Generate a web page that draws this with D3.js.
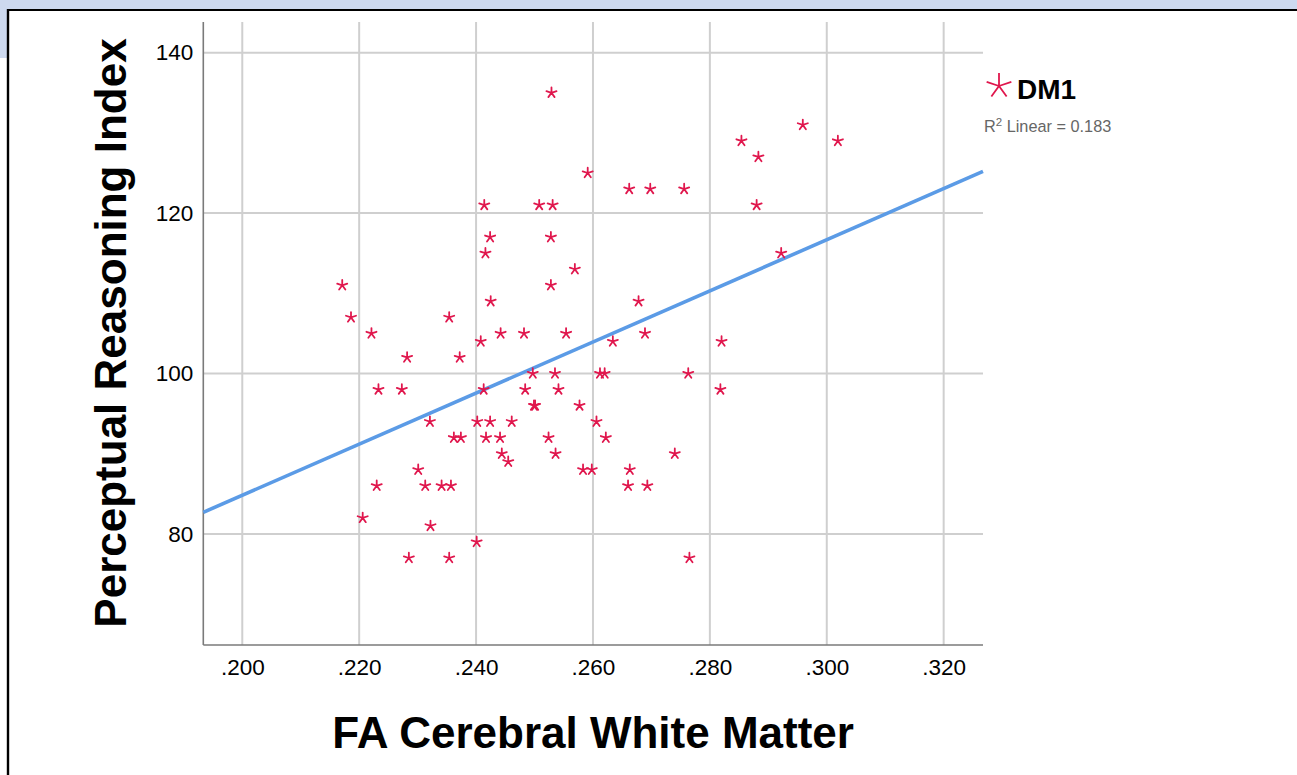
<!DOCTYPE html>
<html>
<head>
<meta charset="utf-8">
<script src="https://cdn.jsdelivr.net/npm/d3@7"></script>
<style>
  html, body { margin: 0; padding: 0; background: #ffffff; }
  svg { display: block; font-family: "Liberation Sans", Arial, sans-serif; }
</style>
</head>
<body>
<svg id="chart" width="1297" height="775"></svg>
<script>
// FA of cerebral white matter (x) vs Perceptual Reasoning Index (y), DM1 group
const faValues = [
  0.2171, 0.2186, 0.2221, 0.2233, 0.2273, 0.2282, 0.2206, 0.2230, 0.2285, 0.2301,
  0.2313, 0.2321, 0.2322, 0.2341, 0.2357, 0.2354, 0.2354, 0.2362, 0.2374, 0.2372,
  0.2401, 0.2402, 0.2408, 0.2413, 0.2414, 0.2416, 0.2424, 0.2425, 0.2417, 0.2424,
  0.2441, 0.2444, 0.2455, 0.2442, 0.2461, 0.2482, 0.2484, 0.2497, 0.2499, 0.2501,
  0.2508, 0.2524, 0.2528, 0.2529, 0.2531, 0.2528, 0.2535, 0.2536, 0.2541, 0.2554,
  0.2569, 0.2577, 0.2583, 0.2591, 0.2598, 0.2606, 0.2612, 0.2620, 0.2622, 0.2634,
  0.2662, 0.2678, 0.2663, 0.2660, 0.2689, 0.2693, 0.2698, 0.2740, 0.2756, 0.2763,
  0.2765, 0.2818, 0.2820, 0.2854, 0.2883, 0.2880, 0.2922, 0.2959, 0.3019
];
const priValues = [
  111, 107, 105, 98, 98, 102, 82, 86, 77, 88,
  86, 94, 81, 86, 86, 107, 77, 92, 92, 102,
  79, 94, 104, 98, 121, 115, 117, 109, 92, 94,
  92, 90, 89, 105, 94, 105, 98, 100, 96, 96,
  121, 92, 111, 135, 121, 117, 100, 90, 98, 105,
  113, 96, 88, 125, 88, 94, 100, 100, 92, 104,
  123, 109, 88, 86, 105, 86, 123, 90, 123, 100,
  77, 98, 104, 129, 127, 121, 115, 131, 129
];

// Linear fit: PRI = intercept + slope * FA
const fitCoefficients = [21.1, 318.6];
const fitR2 = "0.183";

const xTickValues = [0.20, 0.22, 0.24, 0.26, 0.28, 0.30, 0.32];
const yTickValues = [80, 100, 120, 140];
const seriesName = "DM1";
const xTitle = "FA Cerebral White Matter";
const yTitle = "Perceptual Reasoning Index";

const markerColor = "#e0174d";
const lineColor = "#5b9be6";
const gridColor = "#cfcfcf";
const axisColor = "#7a7a7a";

const svg = d3.select("#chart");

// window frame around the chart
svg.append("rect").attr("x", 0).attr("y", 0).attr("width", 1297).attr("height", 9).attr("fill", "#cdd9ef");
svg.append("rect").attr("x", 0).attr("y", 0).attr("width", 7).attr("height", 58).attr("fill", "#cdd9ef");
svg.append("line").attr("x1", 7).attr("x2", 1297).attr("y1", 10).attr("y2", 10)
  .attr("stroke", "#000").attr("stroke-width", 2.2);
svg.append("line").attr("x1", 8).attr("x2", 8).attr("y1", 9).attr("y2", 775)
  .attr("stroke", "#000").attr("stroke-width", 2.4);

const plot = { left: 203.3, right: 983, top: 22, bottom: 645 };

const x = d3.scaleLinear().domain([0.19333, 0.32673]).range([plot.left, plot.right]);
const y = d3.scaleLinear().domain([66.15, 143.83]).range([plot.bottom, plot.top]);

// gridlines
const grid = svg.append("g");
grid.selectAll("line.vg").data(xTickValues).join("line")
  .attr("x1", d => x(d)).attr("x2", d => x(d))
  .attr("y1", plot.top).attr("y2", plot.bottom)
  .attr("stroke", gridColor).attr("stroke-width", 2);
grid.selectAll("line.hg").data(yTickValues).join("line")
  .attr("class", "hg")
  .attr("x1", plot.left).attr("x2", plot.right)
  .attr("y1", d => y(d)).attr("y2", d => y(d))
  .attr("stroke", gridColor).attr("stroke-width", 2);

// axes
const fmtX = v => d3.format(".3f")(v).replace(/^0/, "");
const xAxis = d3.axisBottom(x).tickValues(xTickValues).tickFormat(fmtX).tickSize(0).tickPadding(14);
const yAxis = d3.axisLeft(y).tickValues(yTickValues).tickSize(0).tickPadding(10);

const gx = svg.append("g").attr("transform", `translate(0,${plot.bottom})`).call(xAxis);
const gy = svg.append("g").attr("transform", `translate(${plot.left},0)`).call(yAxis);
[gx, gy].forEach(g => {
  g.select(".domain").attr("stroke", axisColor).attr("stroke-width", 1.6);
  g.selectAll("text").attr("font-size", 22.5).attr("fill", "#000")
    .attr("font-family", "'Liberation Sans', Arial, sans-serif");
});
gy.select(".domain").attr("d", `M0,${plot.top}V${plot.bottom}`);
gx.select(".domain").attr("d", `M${plot.left},0H${plot.right}`);

// regression line
const fitLine = x.domain().map(v => [v, fitCoefficients[0] + fitCoefficients[1] * v]);
svg.append("path")
  .attr("d", d3.line().x(d => x(d[0])).y(d => y(d[1]))(fitLine))
  .attr("stroke", lineColor).attr("stroke-width", 3.6).attr("fill", "none");

// asterisk marker (five arms)
function asterisk(r) {
  let d = "";
  for (let k = 0; k < 5; k++) {
    const a = -Math.PI / 2 + k * 2 * Math.PI / 5;
    d += `M0,0L${(r * Math.cos(a)).toFixed(2)},${(r * Math.sin(a)).toFixed(2)}`;
  }
  return d;
}

const points = faValues.map((v, i) => ({ fa: v, pri: priValues[i] }));
svg.append("g").selectAll("path").data(points).join("path")
  .attr("transform", d => `translate(${x(d.fa)},${y(d.pri)})`)
  .attr("d", asterisk(5.3))
  .attr("stroke", markerColor).attr("stroke-width", 1.8).attr("fill", "none")
  .attr("stroke-linecap", "round");

// axis titles
svg.append("text")
  .attr("x", (plot.left + plot.right) / 2).attr("y", 748)
  .attr("text-anchor", "middle").attr("font-size", 44).attr("font-weight", "bold")
  .attr("fill", "#000").text(xTitle);
svg.append("text")
  .attr("transform", "translate(126,333) rotate(-90)")
  .attr("text-anchor", "middle").attr("font-size", 44).attr("font-weight", "bold")
  .attr("fill", "#000").text(yTitle);

// legend
svg.append("path").attr("transform", "translate(999,86)")
  .attr("d", asterisk(13))
  .attr("stroke", markerColor).attr("stroke-width", 1.8).attr("fill", "none");
svg.append("text").attr("x", 1017).attr("y", 99)
  .attr("font-size", 28).attr("font-weight", "bold").attr("fill", "#000").text(seriesName);
const r2 = svg.append("text").attr("x", 984).attr("y", 132)
  .attr("font-size", 16.3).attr("fill", "#666");
r2.append("tspan").text("R");
r2.append("tspan").attr("dy", -6).attr("font-size", 11.5).text("2");
r2.append("tspan").attr("dy", 6).text(" Linear = " + fitR2);
</script>
</body>
</html>
